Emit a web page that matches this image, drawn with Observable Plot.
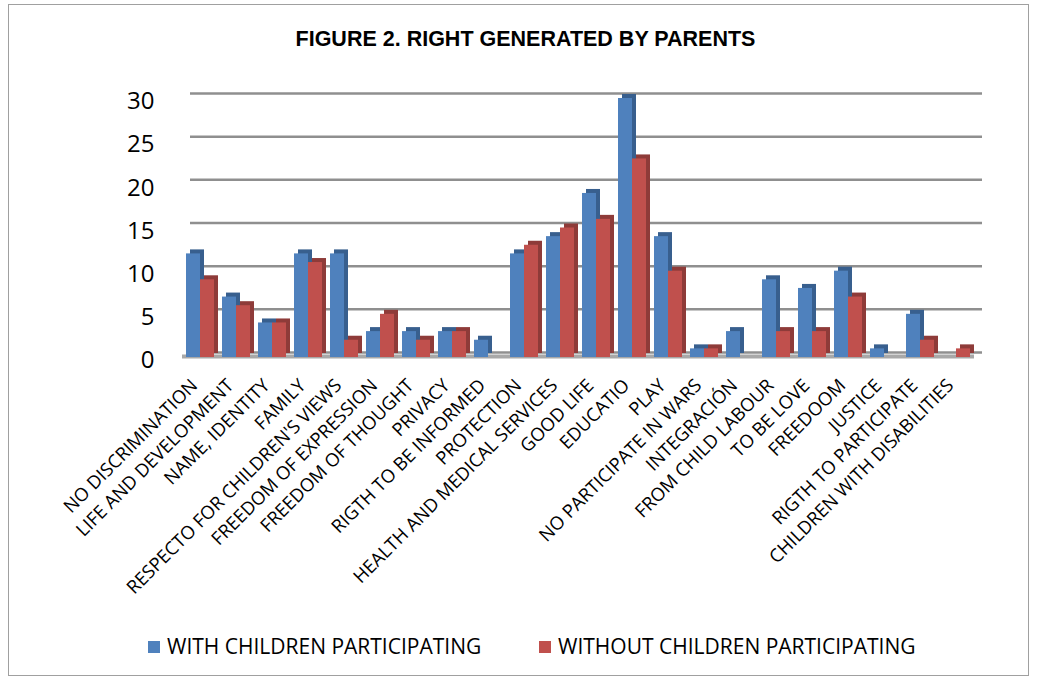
<!DOCTYPE html>
<html><head><meta charset="utf-8">
<script src="https://cdn.jsdelivr.net/npm/d3@7"></script>
<script src="https://cdn.jsdelivr.net/npm/@observablehq/plot@0.6"></script>
<style>
body{margin:0;background:#fff;width:1038px;height:682px;position:relative;overflow:hidden;font-family:"Open Sans",sans-serif}
#frame{position:absolute;left:8px;top:4px;width:1021px;height:672px;border:1.5px solid #a0a0a0;box-sizing:border-box}
#title{position:absolute;top:27px;left:0;width:1051px;text-align:center;font:bold 21.5px/24px "Liberation Sans",Arial,sans-serif;color:#000}
#chart{position:absolute;left:0;top:0}
.leg{position:absolute;top:632px;font-size:21px;color:#000;white-space:nowrap;line-height:28px}
.sw{display:inline-block;width:12px;height:12px;margin-right:7px;vertical-align:1px}
</style></head>
<body>
<div id="frame"></div>
<div id="chart"></div>
<div id="title">FIGURE 2. RIGHT GENERATED BY PARENTS</div>
<div id="legend"></div>
<script>
const categories = ["NO DISCRIMINATION","LIFE AND DEVELOPMENT","NAME, IDENTITY","FAMILY","RESPECTO FOR CHILDREN'S VIEWS","FREEDOM OF EXPRESSION","FREEDOM OF THOUGHT","PRIVACY","RIGTH TO BE INFORMED","PROTECTION","HEALTH AND MEDICAL SERVICES","GOOD LIFE","EDUCATIO","PLAY","NO PARTICIPATE IN WARS","INTEGRACIÓN","FROM CHILD LABOUR","TO BE LOVE","FREEDOOM","JUSTICE","RIGTH TO PARTICIPATE","CHILDREN WITH DISABILITIES"];
const withChildren    = [12,7,4,12,12,3,3,3,2,12,14,19,30,14,1,3,9,8,10,1,5,0];
const withoutChildren = [9,6,4,11,2,5,2,3,0,13,15,16,23,10,1,0,3,3,7,0,2,1];
const seriesNames = ["WITH CHILDREN PARTICIPATING","WITHOUT CHILDREN PARTICIPATING"];
const frontColors = ["#4F81BD","#C0504D"];
const sideColors = ["#385F8E","#8E3B39"];
const yTicks = [0,5,10,15,20,25,30];

const data = categories.flatMap((c,i)=>[
  {cat:c, series:seriesNames[0], value:withChildren[i]},
  {cat:c, series:seriesNames[1], value:withoutChildren[i]}
]);

const marks = [
  Plot.gridY(yTicks, {stroke:"#8f8f8f", strokeOpacity:1, strokeWidth:2.5, dx:8, dy:-5}),
  Plot.ruleY([0], {stroke:"#a8a8a8", strokeWidth:4, dy:-1}),
  Plot.axisY(yTicks, {tickSize:0, tickPadding:28, dy:3, fontSize:24, fill:"#000", label:null}),
  Plot.axisFx({anchor:"bottom", tickRotate:-45, tickSize:0, tickPadding:25, dx:-6, fontSize:18.4, label:null, fill:"#000"})
];
seriesNames.forEach((s,i)=>{
  const sub = data.filter(d=>d.series===s);
  marks.push(Plot.barY(sub, {fx:"cat", x:"series", y:"value", fill:sideColors[i], dx:4, dy:-4}));
  marks.push(Plot.barY(sub, {fx:"cat", x:"series", y:"value", fill:frontColors[i]}));
});

const chart = Plot.plot({
  width:1038, height:610,
  marginLeft:175, marginRight:57, marginTop:98, marginBottom:253,
  style:{fontFamily:"Open Sans, sans-serif", background:"transparent"},
  fx:{domain:categories, padding:0, label:null, axis:null},
  x:{domain:seriesNames, paddingInner:0, paddingOuter:0.28, axis:null},
  y:{domain:[0,30], axis:null, label:null},
  marks
});
document.getElementById("chart").appendChild(chart);

const legend = document.getElementById("legend");
const legX = [148, 539];
seriesNames.forEach((s,i)=>{
  const el = document.createElement("div");
  el.className = "leg";
  el.style.left = legX[i] + "px";
  el.innerHTML = `<span class="sw" style="background:${frontColors[i]}"></span>${s}`;
  legend.appendChild(el);
});
</script>
</body></html>
